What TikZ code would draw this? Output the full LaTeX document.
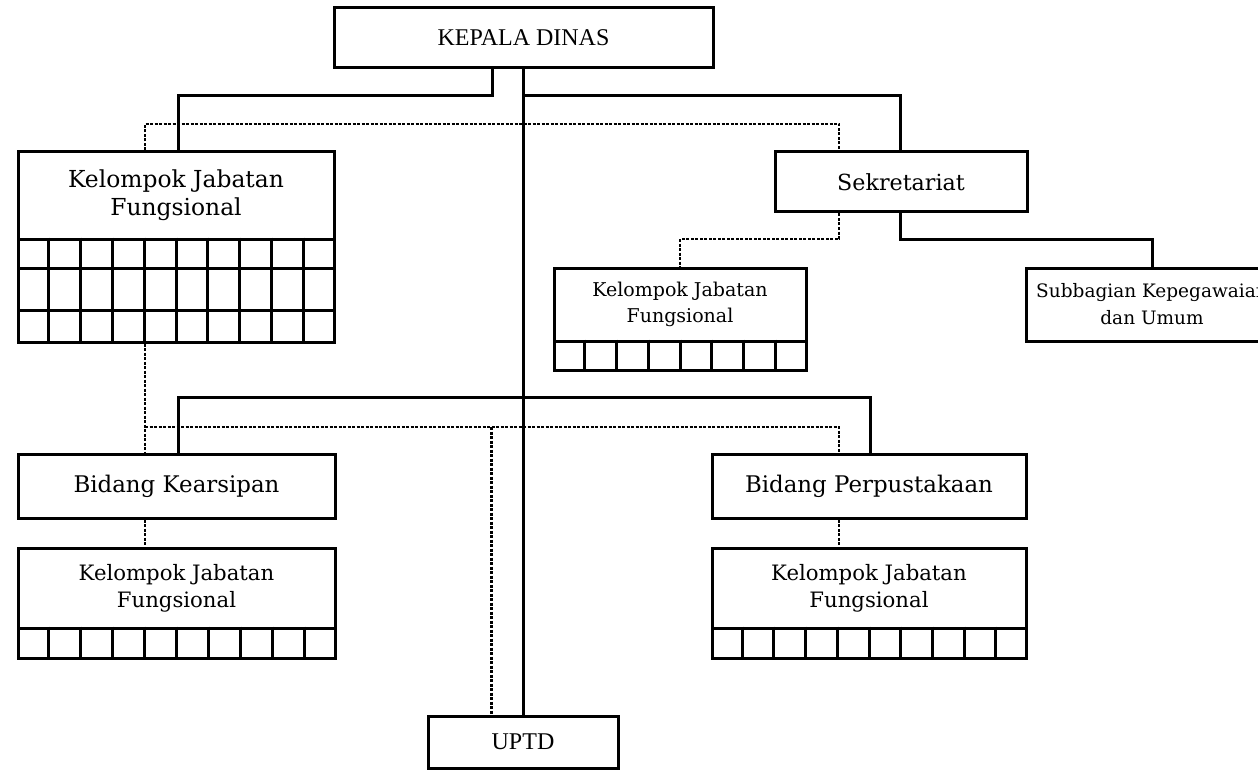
\documentclass[tikz,border=0pt]{standalone}
\usepackage{fontspec}
\setmainfont{Liberation Serif}
\newfontfamily\schfont{DejaVu Serif}
\usetikzlibrary{calc}
\begin{document}
\begin{tikzpicture}[x=1pt,y=-1pt,
  box/.style={draw, line width=3pt, rectangle, inner sep=0pt, align=center},
  conn/.style={line width=3pt},
  dotline/.style={line width=2.8pt, dash pattern=on 3pt off 1.5pt},
  gridline/.style={line width=3pt},
  fa/.style={font=\schfont\fontsize{23.4}{28}\selectfont},
  fb/.style={font=\schfont\fontsize{19}{26}\selectfont},
  fs/.style={font=\schfont\fontsize{18.5}{27}\selectfont},
  fc/.style={font=\schfont\fontsize{21.2}{27}\selectfont},
  fe/.style={font=\schfont\fontsize{22.9}{27}\selectfont},
  fd/.style={font=\schfont\fontsize{22.2}{28}\selectfont},
  ft/.style={font=\fontsize{24}{28}\selectfont}
]
\useasboundingbox (0,0) rectangle (1258,770);
\clip (0,0) rectangle (1258,770);
\fill[white] (0,0) rectangle (1258,770);

% boxes
\node[box, ft, minimum width=379pt, minimum height=60pt] (kepala) at (523.5,38) {KEPALA DINAS};
\node[box, fa, minimum width=316pt, minimum height=87pt] (kjf1) at (176,195.5) {Kelompok Jabatan\\Fungsional};
\node[box, minimum width=316pt, minimum height=103pt] (kjf1g) at (176,290.5) {};
\node[box, fd, minimum width=252pt, minimum height=60pt] (sek) at (901,182) {Sekretariat};
\node[box, fb, minimum width=252pt, minimum height=73pt] (kjf2) at (680,304.5) {Kelompok Jabatan\\Fungsional};
\node[box, minimum width=252pt, minimum height=29pt] (kjf2g) at (680,355.5) {};
\node[box, fs, minimum width=252pt, minimum height=73pt] (sub) at (1152,304.5) {Subbagian Kepegawaian\\dan Umum};
\node[box, fe, minimum width=317pt, minimum height=64pt] (kear) at (176.5,486) {Bidang Kearsipan};
\node[box, fc, minimum width=317pt, minimum height=80pt] (kjf3) at (176.5,588) {Kelompok Jabatan\\Fungsional};
\node[box, minimum width=317pt, minimum height=30pt] (kjf3g) at (176.5,643) {};
\node[box, fe, minimum width=314pt, minimum height=64pt] (perp) at (869,486) {Bidang Perpustakaan};
\node[box, fc, minimum width=314pt, minimum height=80pt] (kjf4) at (869,588) {Kelompok Jabatan\\Fungsional};
\node[box, minimum width=314pt, minimum height=30pt] (kjf4g) at (869,643) {};
\node[box, ft, minimum width=190pt, minimum height=52pt] (uptd) at (523,742) {UPTD};

% grids
\foreach \i in {1,...,9} {
  \draw[gridline] ($(kjf1g.north west)!\i/10!(kjf1g.north east)$) -- ($(kjf1g.south west)!\i/10!(kjf1g.south east)$);
  \draw[gridline] ($(kjf3g.north west)!\i/10!(kjf3g.north east)$) -- ($(kjf3g.south west)!\i/10!(kjf3g.south east)$);
  \draw[gridline] ($(kjf4g.north west)!\i/10!(kjf4g.north east)$) -- ($(kjf4g.south west)!\i/10!(kjf4g.south east)$);
}
\foreach \i in {1,...,7} {
  \draw[gridline] ($(kjf2g.north west)!\i/8!(kjf2g.north east)$) -- ($(kjf2g.south west)!\i/8!(kjf2g.south east)$);
}
\draw[gridline] (18,268) -- (334,268);
\draw[gridline] (18,310) -- (334,310);

% helper coordinates
\coordinate (xa) at (145,0);
\coordinate (xb) at (178,0);
\coordinate (xc) at (492,0);
\coordinate (xd) at (523,0);
\coordinate (xe) at (900,0);
\coordinate (xf) at (839,0);
\coordinate (xg) at (680,0);
\coordinate (xh) at (1152,0);
\coordinate (xi) at (870,0);
\coordinate (xj) at (491.5,0);
\coordinate (y1) at (0,96);
\coordinate (y2) at (0,124);
\coordinate (y3) at (0,239);
\coordinate (y4) at (0,397);
\coordinate (y5) at (0,427);
\coordinate (j1) at (523,96);
\coordinate (j3) at (491.5,427);

% solid connectors
\draw[conn] (xc |- kepala.south) -- (xc |- y1) -- (xb |- y1) -- (xb |- kjf1.north);
\draw[conn] (xd |- kepala.south) -- (xd |- uptd.north);
\draw[conn] (j1) -- (xe |- y1) -- (xe |- sek.north);
\draw[conn] (xe |- sek.south) -- (xe |- y3) -- (xh |- y3) -- (xh |- sub.north);
\draw[conn] (xb |- kear.north) -- (xb |- y4) -- (xi |- y4) -- (xi |- perp.north);

% dotted connectors
\draw[dotline] (xa |- kjf1.north) -- (xa |- y2) -- (xf |- y2) -- (xf |- sek.north);
\draw[dotline] (xf |- sek.south) -- (xf |- y3) -- (xg |- y3) -- (xg |- kjf2.north);
\draw[dotline] (xa |- kjf1g.south) -- (xa |- kear.north);
\draw[dotline] (xa |- y5) -- (xf |- y5) -- (xf |- perp.north);
\draw[dotline] (j3) -- (xj |- uptd.north);
\draw[dotline] (xa |- kear.south) -- (xa |- kjf3.north);
\draw[dotline] (xf |- perp.south) -- (xf |- kjf4.north);
\end{tikzpicture}
\end{document}
